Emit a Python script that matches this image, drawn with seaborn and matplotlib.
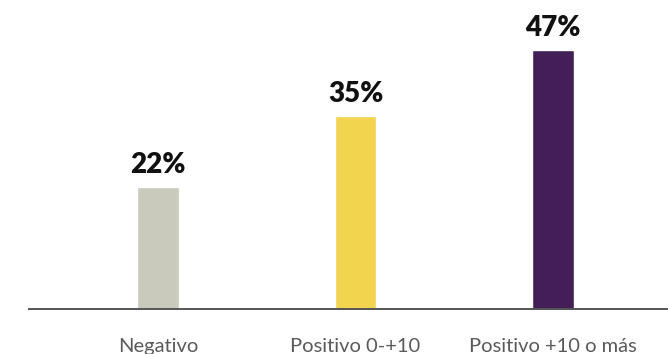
import matplotlib
matplotlib.use("Agg")
import matplotlib.pyplot as plt
import seaborn as sns
import pandas as pd

categories = ["Negativo", "Positivo 0-+10", "Positivo +10 o más"]
values = [22, 35, 47]
colors = ["#c9cabc", "#f2d44f", "#441f57"]

df = pd.DataFrame({"categoria": categories, "valor": values})

sns.set_theme(style="white")
plt.rcParams["font.family"] = ["Lato", "DejaVu Sans"]

fig = plt.figure(figsize=(6.68, 3.54), dpi=100)
ax = fig.add_axes([0.0, 0.1285, 1.0, 0.8715])

sns.barplot(data=df, x="categoria", y="valor", hue="categoria",
            palette=colors, width=0.21, legend=False, ax=ax, saturation=1)

for i, v in enumerate(values):
    ax.text(i, v + 1.6, f"{v}%", ha="center", va="bottom",
            fontsize=20, fontweight="heavy", color="#111111")

ax.set_ylim(0, 56)
ax.set_xlim(-0.80, 2.582)
ax.set_xlabel("")
ax.set_ylabel("")
ax.set_yticks([])
ax.tick_params(axis="x", length=0, pad=21, labelsize=14.5, labelcolor="#5a5a5a")

for side in ["top", "right", "left"]:
    ax.spines[side].set_visible(False)
ax.spines["bottom"].set_color("#555555")
ax.spines["bottom"].set_linewidth(1.4)
ax.spines["bottom"].set_bounds(-0.653, 2.582)

fig.savefig("out.png", dpi=100)
